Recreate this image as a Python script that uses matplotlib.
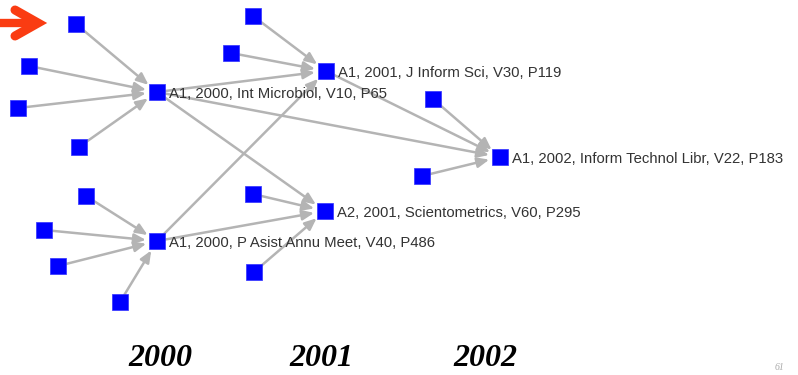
import matplotlib
matplotlib.use("Agg")
import matplotlib.pyplot as plt

# Node ids, positions (pixel-like layout coordinates) and labels
node_ids = ["s1", "s2", "s3", "s4", "IM", "s5", "s6", "s7", "s8", "PA",
            "s9", "s10", "JIS", "s11", "s12", "SCI", "s13", "s14", "ITL"]
node_x = [76, 29, 18, 79, 157, 86, 44, 58, 120, 157,
          253, 231, 326, 253, 254, 325, 433, 422, 500]
node_y = [24, 66, 108, 147, 92, 196, 230, 266, 302, 241,
          16, 53, 71, 194, 272, 211, 99, 176, 157]
node_labels = {
    "IM": "A1, 2000, Int Microbiol, V10, P65",
    "PA": "A1, 2000, P Asist Annu Meet, V40, P486",
    "JIS": "A1, 2001, J Inform Sci, V30, P119",
    "SCI": "A2, 2001, Scientometrics, V60, P295",
    "ITL": "A1, 2002, Inform Technol Libr, V22, P183",
}
edges = [("s1", "IM"), ("s2", "IM"), ("s3", "IM"), ("s4", "IM"),
         ("s5", "PA"), ("s6", "PA"), ("s7", "PA"), ("s8", "PA"),
         ("s9", "JIS"), ("s10", "JIS"), ("IM", "JIS"), ("PA", "JIS"),
         ("s11", "SCI"), ("s12", "SCI"), ("IM", "SCI"), ("PA", "SCI"),
         ("s13", "ITL"), ("s14", "ITL"), ("JIS", "ITL"), ("IM", "ITL")]
year_labels = ["2000", "2001", "2002"]
year_x = [160, 321, 485]

pos = {n: (x, y) for n, x, y in zip(node_ids, node_x, node_y)}

fig = plt.figure(figsize=(7.98, 3.75), dpi=100)
ax = fig.add_axes([0, 0, 1, 1])
ax.set_xlim(0, 798)
ax.set_ylim(375, 0)
ax.axis("off")

edge_color = "#b4b4b4"
for a, b in edges:
    ax.annotate("", xy=pos[b], xytext=pos[a],
                arrowprops=dict(arrowstyle="-|>,head_length=0.7,head_width=0.3",
                                color=edge_color, lw=1.8,
                                shrinkA=6, shrinkB=8),
                zorder=1)

ax.scatter(node_x, node_y, marker="s", s=130, color="#0000ff",
           edgecolors="#3030ff", linewidths=0.5, zorder=3)

for n, lab in node_labels.items():
    x, y = pos[n]
    ax.text(x + 12, y + 2, lab, fontsize=10.7, family="Liberation Sans",
            color="#333333", va="center", ha="left", zorder=4)

for yl, xx in zip(year_labels, year_x):
    ax.text(xx, 358, yl, fontsize=23, family="Liberation Serif",
            fontweight="bold", fontstyle="italic", ha="center", va="center",
            color="black")

# red pointer arrow at top-left
red = "#fa3c12"
ax.plot([0, 36], [23, 23], color=red, lw=6, solid_capstyle="butt", zorder=5)
ax.plot([15, 38, 15], [10, 23, 36], color=red, lw=6.5,
        solid_joinstyle="miter", solid_capstyle="round", zorder=5)

ax.text(779, 368, "61", fontsize=7, family="Liberation Serif",
        fontstyle="italic", color="#aaaaaa", ha="center", va="center")

fig.savefig("out.png", dpi=100)
